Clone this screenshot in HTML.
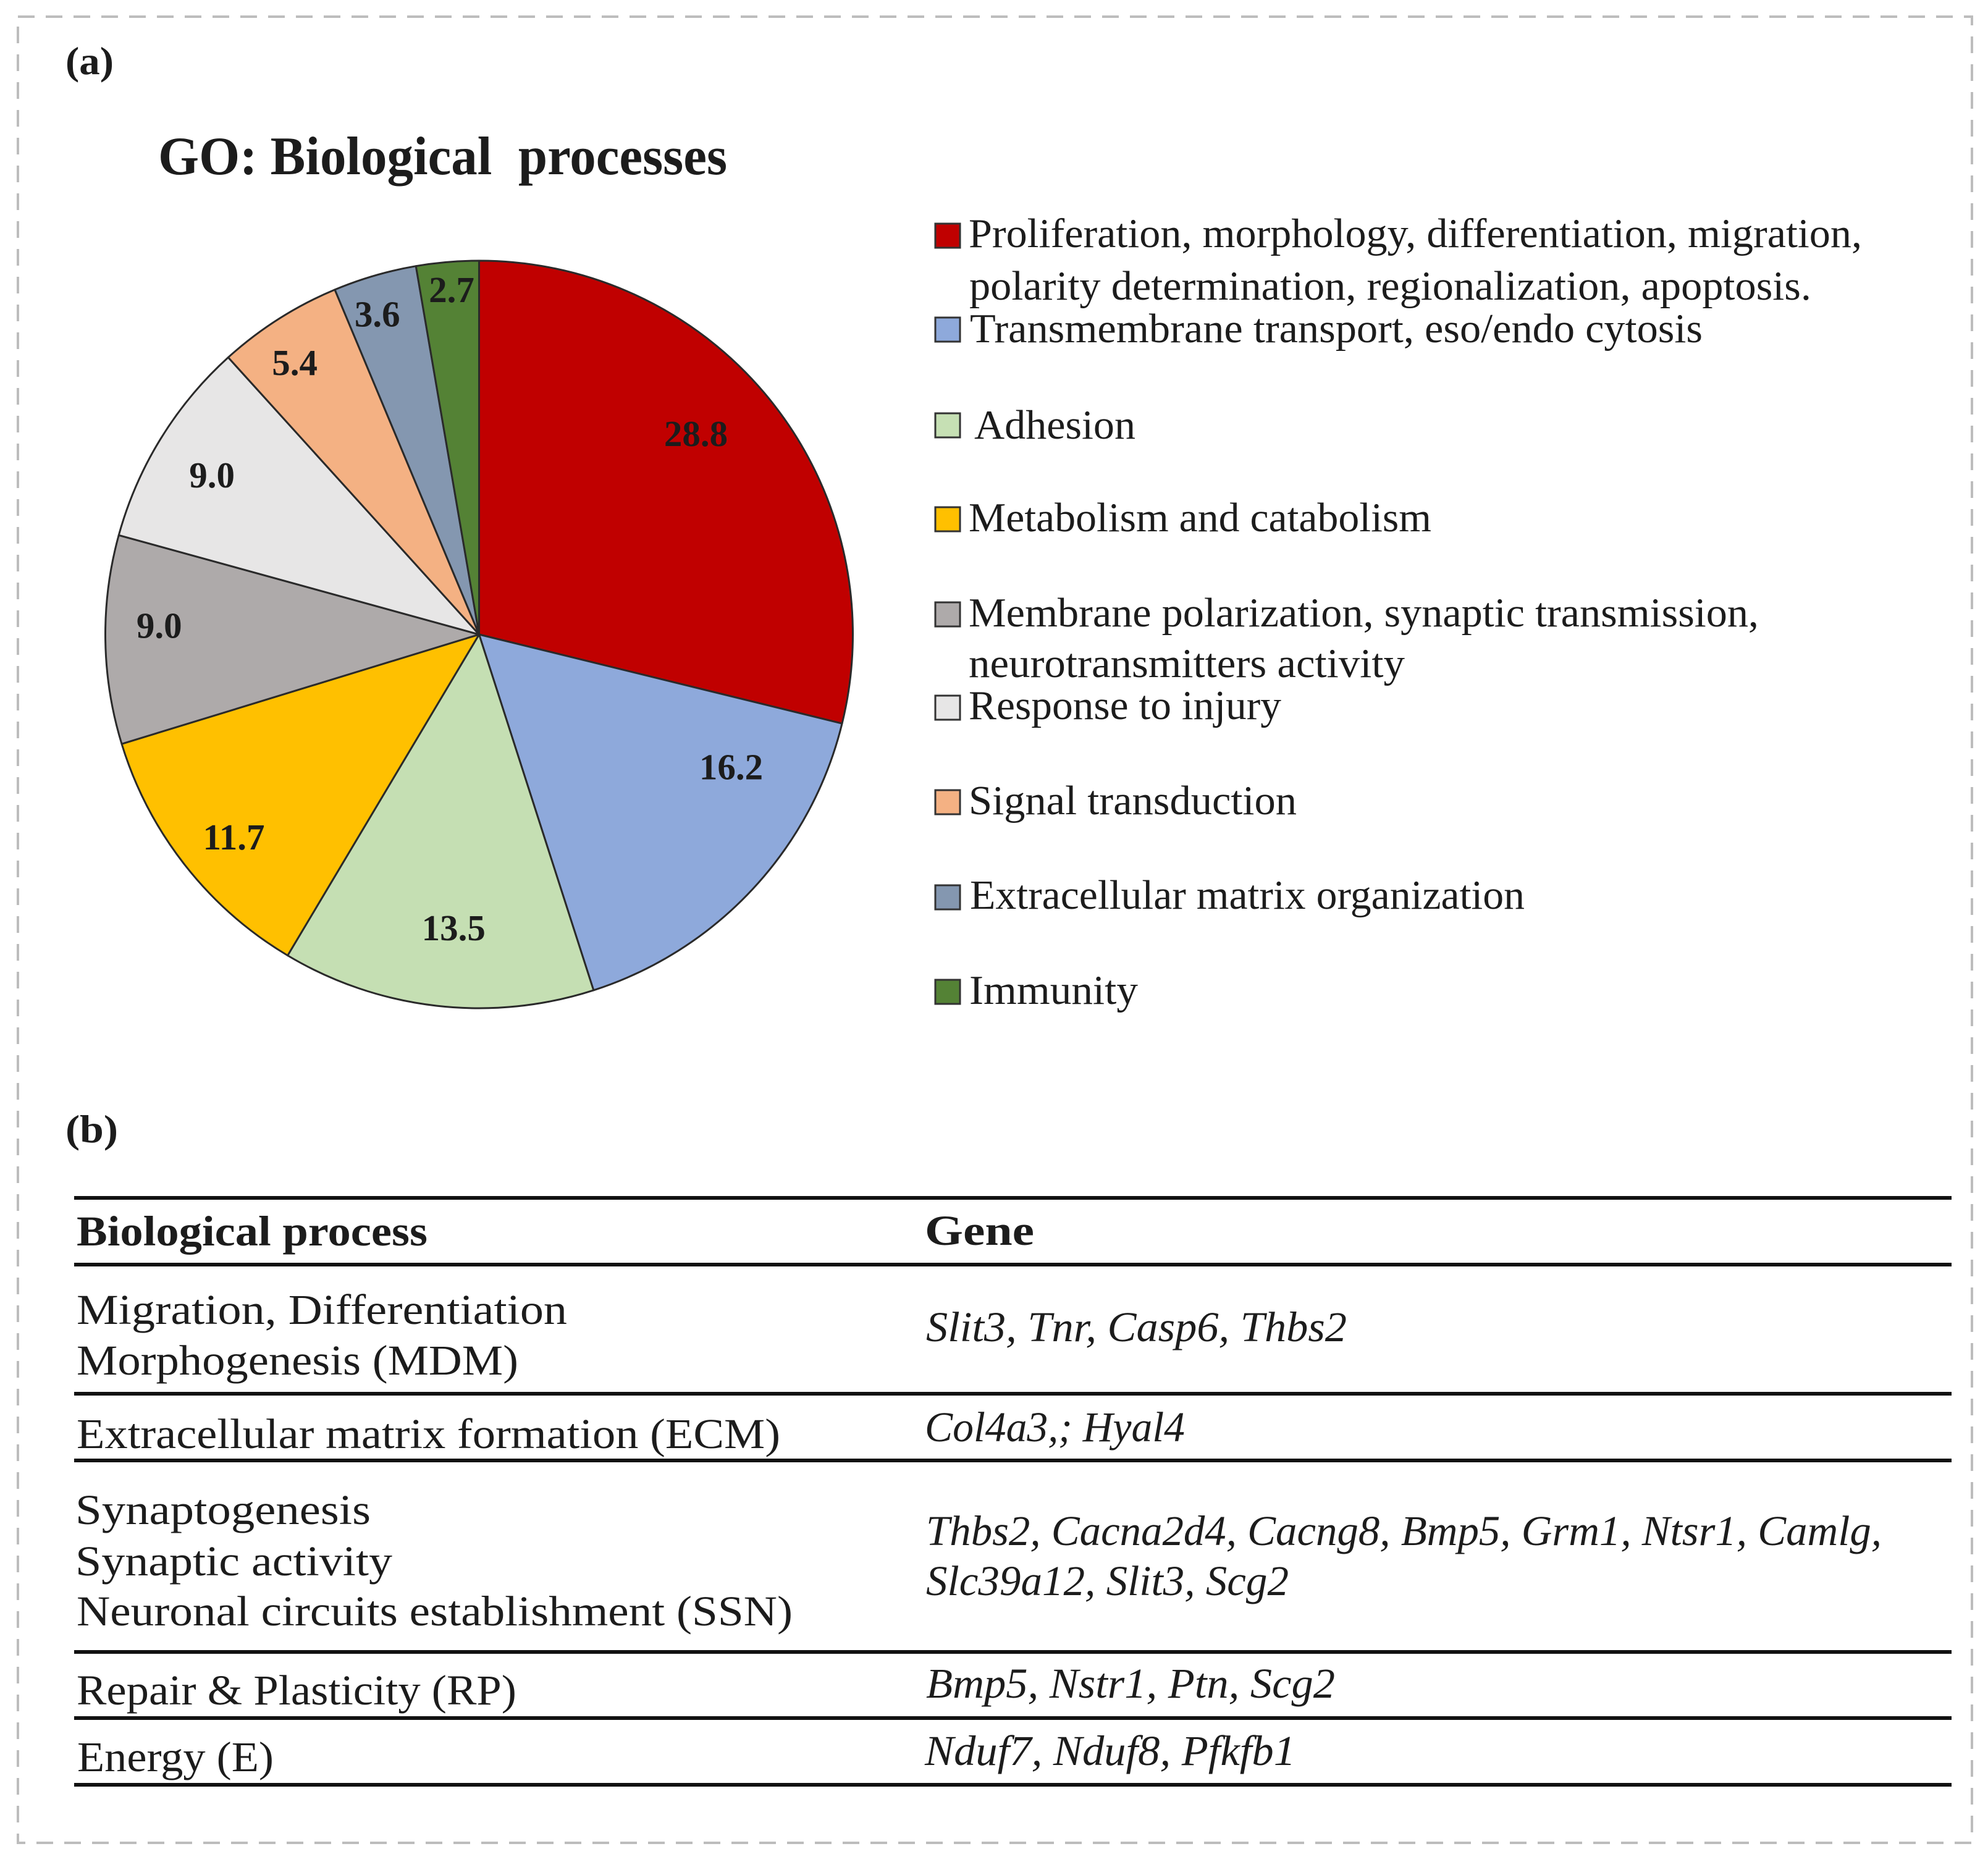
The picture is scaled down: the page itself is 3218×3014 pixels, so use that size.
<!DOCTYPE html>
<html lang="en">
<head>
<meta charset="utf-8">
<title>GO: Biological processes</title>
<style>
html,body{margin:0;padding:0;background:#fff;}
svg{display:block;}
text{font-family:"Liberation Serif",serif;fill:#1c1c1c;}
.lg{font-size:67px;}
.tb{font-size:69px;}
.it{font-size:69px;font-style:italic;}
.bd{font-weight:bold;}
.rule{stroke:#111;stroke-width:6;}
.sw{stroke:#333;stroke-width:3;}
</style>
</head>
<body>
<svg id="figure" xmlns="http://www.w3.org/2000/svg" width="3218" height="3014" viewBox="0 0 3218 3014">
  <rect x="0" y="0" width="3218" height="3014" fill="#ffffff"/>
  <rect x="29" y="27" width="3163" height="2956" fill="none" stroke="#bdbdbd" stroke-width="4" stroke-dasharray="27 18"/>

  <text class="bd" x="106" y="120" font-size="64" textLength="78" lengthAdjust="spacingAndGlyphs">(a)</text>
  <text class="bd" x="256" y="282" font-size="88" textLength="921" lengthAdjust="spacingAndGlyphs">GO: Biological&#160;&#160;processes</text>

  <g id="pie"></g>

  <g>
    <rect class="sw" x="1514" y="362" width="40" height="39" fill="#C00000"/>
    <text class="lg" x="1568" y="400" textLength="1446" lengthAdjust="spacingAndGlyphs">Proliferation, morphology, differentiation, migration,</text>
    <text class="lg" x="1569" y="485" textLength="1363" lengthAdjust="spacingAndGlyphs">polarity determination, regionalization, apoptosis.</text>

    <rect class="sw" x="1514" y="514" width="40" height="39" fill="#8EA9DB"/>
    <text class="lg" x="1570" y="554" textLength="1186" lengthAdjust="spacingAndGlyphs">Transmembrane transport, eso/endo cytosis</text>

    <rect class="sw" x="1514" y="669" width="40" height="39" fill="#C6E0B4"/>
    <text class="lg" x="1577" y="710" textLength="261" lengthAdjust="spacingAndGlyphs">Adhesion</text>

    <rect class="sw" x="1514" y="821" width="40" height="39" fill="#FFC000"/>
    <text class="lg" x="1568" y="860" textLength="749" lengthAdjust="spacingAndGlyphs">Metabolism and catabolism</text>

    <rect class="sw" x="1514" y="975" width="40" height="39" fill="#AEAAAA"/>
    <text class="lg" x="1568" y="1014" textLength="1279" lengthAdjust="spacingAndGlyphs">Membrane polarization, synaptic transmission,</text>
    <text class="lg" x="1568" y="1096" textLength="706" lengthAdjust="spacingAndGlyphs">neurotransmitters activity</text>

    <rect class="sw" x="1514" y="1126" width="40" height="39" fill="#E7E6E6"/>
    <text class="lg" x="1568" y="1164" textLength="506" lengthAdjust="spacingAndGlyphs">Response to injury</text>

    <rect class="sw" x="1514" y="1279" width="40" height="39" fill="#F4B183"/>
    <text class="lg" x="1568" y="1318" textLength="531" lengthAdjust="spacingAndGlyphs">Signal transduction</text>

    <rect class="sw" x="1514" y="1433" width="40" height="39" fill="#8497B0"/>
    <text class="lg" x="1570" y="1471" textLength="898" lengthAdjust="spacingAndGlyphs">Extracellular matrix organization</text>

    <rect class="sw" x="1514" y="1586" width="40" height="39" fill="#548235"/>
    <text class="lg" x="1569" y="1625" textLength="273" lengthAdjust="spacingAndGlyphs">Immunity</text>
  </g>

  <text class="bd" x="106" y="1849" font-size="64" textLength="85" lengthAdjust="spacingAndGlyphs">(b)</text>

  <g>
    <line class="rule" x1="120" y1="1939" x2="3159" y2="1939"/>
    <line class="rule" x1="120" y1="2047" x2="3159" y2="2047"/>
    <line class="rule" x1="120" y1="2256" x2="3159" y2="2256"/>
    <line class="rule" x1="120" y1="2364" x2="3159" y2="2364"/>
    <line class="rule" x1="120" y1="2674" x2="3159" y2="2674"/>
    <line class="rule" x1="120" y1="2781" x2="3159" y2="2781"/>
    <line class="rule" x1="120" y1="2889" x2="3159" y2="2889"/>

    <text class="tb bd" x="124" y="2016" textLength="568" lengthAdjust="spacingAndGlyphs">Biological process</text>
    <text class="tb bd" x="1497" y="2015" textLength="177" lengthAdjust="spacingAndGlyphs">Gene</text>

    <text class="tb" x="124" y="2143" textLength="794" lengthAdjust="spacingAndGlyphs">Migration, Differentiation</text>
    <text class="tb" x="124" y="2225" textLength="715" lengthAdjust="spacingAndGlyphs">Morphogenesis (MDM)</text>
    <text class="it" x="1499" y="2171" textLength="681" lengthAdjust="spacingAndGlyphs">Slit3, Tnr, Casp6, Thbs2</text>

    <text class="tb" x="124" y="2344" textLength="1139" lengthAdjust="spacingAndGlyphs">Extracellular matrix formation (ECM)</text>
    <text class="it" x="1497" y="2333" textLength="421" lengthAdjust="spacingAndGlyphs">Col4a3,; Hyal4</text>

    <text class="tb" x="122" y="2467" textLength="478" lengthAdjust="spacingAndGlyphs">Synaptogenesis</text>
    <text class="tb" x="122" y="2550" textLength="513" lengthAdjust="spacingAndGlyphs">Synaptic activity</text>
    <text class="tb" x="124" y="2631" textLength="1159" lengthAdjust="spacingAndGlyphs">Neuronal circuits establishment (SSN)</text>
    <text class="it" x="1499" y="2501" textLength="1547" lengthAdjust="spacingAndGlyphs">Thbs2, Cacna2d4, Cacng8, Bmp5, Grm1, Ntsr1, Camlg,</text>
    <text class="it" x="1499" y="2582" textLength="587" lengthAdjust="spacingAndGlyphs">Slc39a12, Slit3, Scg2</text>

    <text class="tb" x="124" y="2759" textLength="712" lengthAdjust="spacingAndGlyphs">Repair &amp; Plasticity (RP)</text>
    <text class="it" x="1499" y="2748" textLength="662" lengthAdjust="spacingAndGlyphs">Bmp5, Nstr1, Ptn, Scg2</text>

    <text class="tb" x="125" y="2867" textLength="318" lengthAdjust="spacingAndGlyphs">Energy (E)</text>
    <text class="it" x="1497" y="2857" textLength="600" lengthAdjust="spacingAndGlyphs">Nduf7, Nduf8, Pfkfb1</text>
  </g>
</svg>

<script>
var categories = ["proliferation", "transport", "adhesion", "metabolism", "membrane", "injury", "signal", "ecm", "immunity"];
var sliceValues = [28.8, 16.2, 13.5, 11.7, 9.0, 9.0, 5.4, 3.6, 2.7];
var sliceColors = ["#C00000", "#8EA9DB", "#C5DFB3", "#FFC000", "#AEAAAA", "#E7E6E6", "#F4B183", "#8497B0", "#548235"];

(function () {
  var NS = "http://www.w3.org/2000/svg";
  var pie = document.getElementById("pie");
  var cx = 775.5, cy = 1027, r = 605;
  // Hand placement of each printed value relative to its slice's bisector.
  var nudgeX = [-6, 76, 10, -40, -64, -46, -55, -38, -6];
  var nudgeY = [-45, -95, 24, 48, -21, -20, -57, -83, -106];

  var total = sliceValues.reduce(function (a, b) { return a + b; }, 0);
  function angleOf(v) { return v / total * 2 * Math.PI; }
  function px(a, k) { return cx + r * k * Math.sin(a); }
  function py(a, k) { return cy - r * k * Math.cos(a); }

  var start = 0;
  var labels = [];
  sliceValues.forEach(function (v, i) {
    var sweep = angleOf(v);
    var end = start + sweep;
    var large = sweep > Math.PI ? 1 : 0;
    var path = document.createElementNS(NS, "path");
    path.setAttribute("d", "M" + cx + " " + cy + " L" + px(start, 1) + " " + py(start, 1) +
      " A" + r + " " + r + " 0 " + large + " 1 " + px(end, 1) + " " + py(end, 1) + " Z");
    path.setAttribute("fill", sliceColors[i]);
    path.setAttribute("stroke", "#2a2a2a");
    path.setAttribute("stroke-width", "3");
    path.setAttribute("stroke-linejoin", "round");
    
    
    pie.appendChild(path);
    var mid = start + sweep / 2;
    labels.push({ x: px(mid, 0.75) + nudgeX[i], y: py(mid, 0.75) + nudgeY[i] + 20, v: v, i: i });
    start = end;
  });

  labels.forEach(function (l) {
    var t = document.createElementNS(NS, "text");
    t.setAttribute("x", l.x);
    t.setAttribute("y", l.y);
    t.setAttribute("text-anchor", "middle");
    t.setAttribute("font-size", "59");
    t.setAttribute("font-weight", "bold");
    
    
    t.textContent = l.v.toFixed(1);
    pie.appendChild(t);
  });
})();
</script>
</body>
</html>
